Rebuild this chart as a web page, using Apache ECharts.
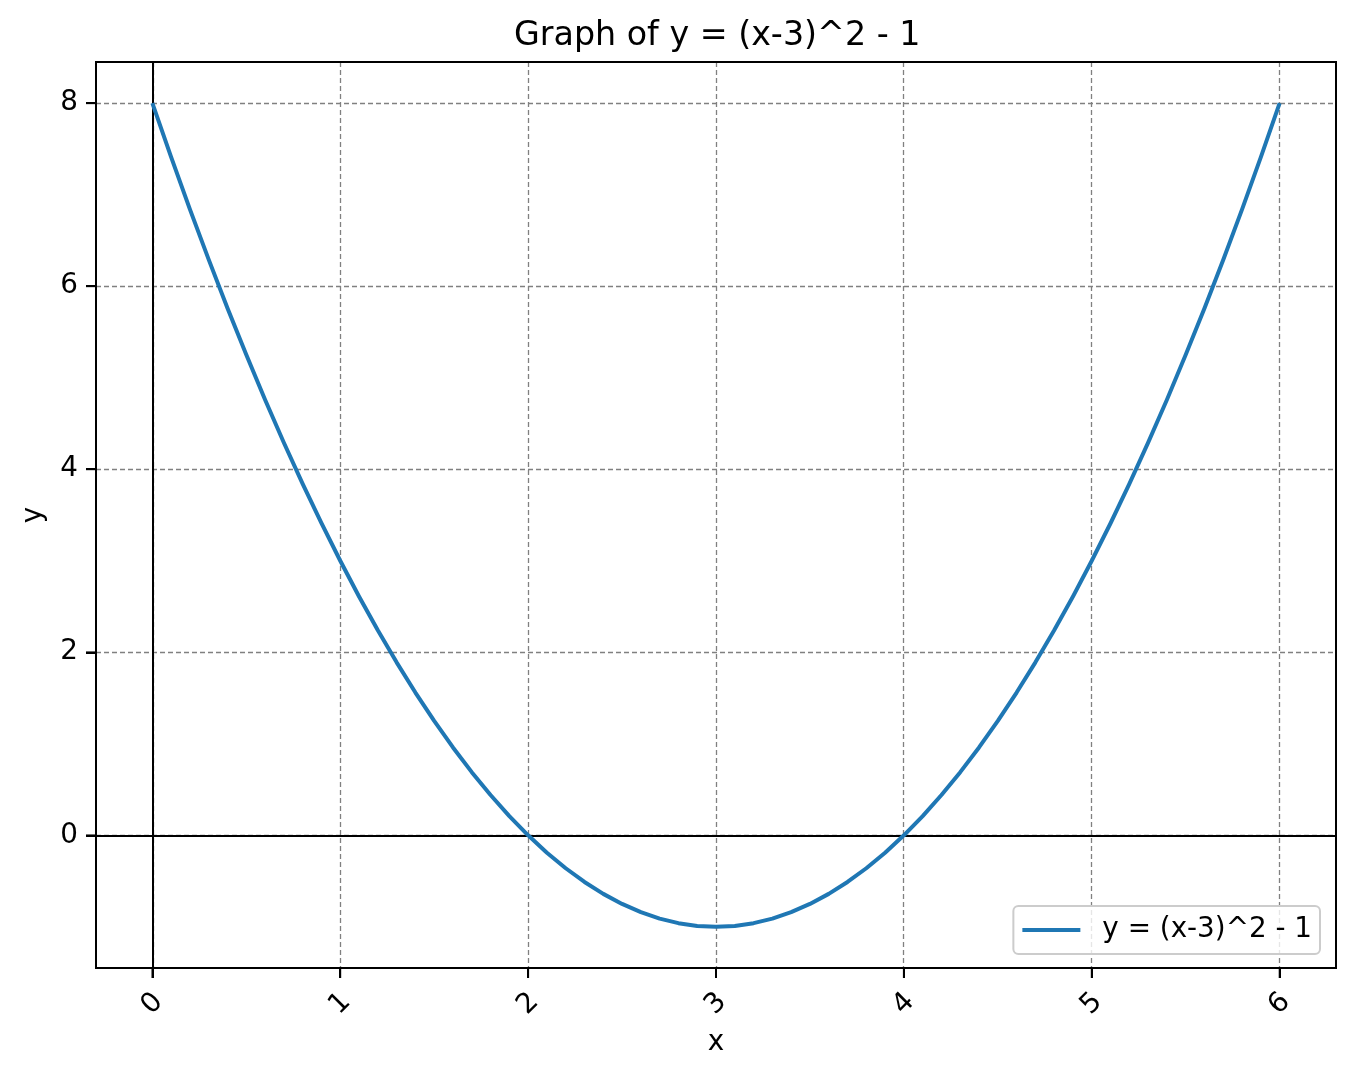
<!DOCTYPE html>
<html>
<head>
<meta charset="utf-8">
<script src="https://cdn.jsdelivr.net/npm/echarts@6/dist/echarts.min.js"></script>
<style>
html,body{margin:0;padding:0;background:#fff;}
#chart{width:1356px;height:1079px;}
</style>
</head>
<body>
<div id="chart"></div>
<script>
var titleText = 'Graph of y = (x-3)^2 - 1';
var seriesName = 'y = (x-3)^2 - 1';
var xValues = [0,0.1,0.2,0.3,0.4,0.5,0.6,0.7,0.8,0.9,1.0,1.1,1.2,1.3,1.4,1.5,1.6,1.7,1.8,1.9,2.0,2.1,2.2,2.3,2.4,2.5,2.6,2.7,2.8,2.9,3.0,
               3.1,3.2,3.3,3.4,3.5,3.6,3.7,3.8,3.9,4.0,4.1,4.2,4.3,4.4,4.5,4.6,4.7,4.8,4.9,5.0,5.1,5.2,5.3,5.4,5.5,5.6,5.7,5.8,5.9,6.0];
var yValues = [8,7.41,6.84,6.29,5.76,5.25,4.76,4.29,3.84,3.41,3,2.61,2.24,1.89,1.56,1.25,0.96,0.69,0.44,0.21,0,-0.19,-0.36,-0.51,-0.64,-0.75,-0.84,-0.91,-0.96,-0.99,-1,
               -0.99,-0.96,-0.91,-0.84,-0.75,-0.64,-0.51,-0.36,-0.19,0,0.21,0.44,0.69,0.96,1.25,1.56,1.89,2.24,2.61,3,3.41,3.84,4.29,4.76,5.25,5.76,6.29,6.84,7.41,8];
var xTicks = [0,1,2,3,4,5,6];
var yTicks = [0,2,4,6,8];
var xLimits = [-0.3, 6.3];
var yLimits = [-1.45, 8.45];

var FONT = 'DejaVu Sans';
var FS = 27.8;
var chart = echarts.init(document.getElementById('chart'), null, {renderer:'canvas'});
var points = xValues.map(function(x,i){return [x, yValues[i]];});
var xTickMarks = xTicks.map(function(v){return [v, yLimits[0]];});
var yTickMarks = yTicks.map(function(v){return [xLimits[0], v];});
var gridLine = {show:true, lineStyle:{color:'#808080', width:1.3, type:[5,3]}};
var blackLine = {show:true, onZero:false, lineStyle:{color:'#000', width:2}};

var option = {
  backgroundColor:'#ffffff',
  animation:false,
  title:{text:titleText, left:509, top:15, textStyle:{fontFamily:FONT, fontSize:33.3, fontWeight:'normal', color:'#000'}},
  legend:{
    right:36, bottom:125, orient:'vertical',
    padding:[10,8,10,9],
    borderColor:'#cccccc', borderWidth:2, borderRadius:5,
    backgroundColor:'rgba(255,255,255,0.8)',
    itemWidth:58, itemHeight:4, icon:'rect',
    textStyle:{fontFamily:FONT, fontSize:FS, color:'#000', padding:[0,0,0,17]},
    data:[seriesName]
  },
  grid:[
    {left:96, right:20, top:62, bottom:111, show:true, borderColor:'#000', borderWidth:2, backgroundColor:'transparent', z:3},
    {left:153, right:77, top:62, bottom:111},
    {left:96, right:20, top:103, bottom:244}
  ],
  xAxis:[
    {gridIndex:0, type:'value', min:xLimits[0], max:xLimits[1], position:'bottom', name:'x', nameLocation:'middle', nameGap:61,
     nameTextStyle:{fontFamily:FONT, fontSize:FS, color:'#000'},
     axisLine:blackLine,
     axisTick:{show:true, inside:false, length:10, customValues:xTicks, lineStyle:{color:'#000', width:2}},
     axisLabel:{show:true, customValues:xTicks, rotate:45, align:'center', verticalAlign:'middle', margin:36,
       fontFamily:FONT, fontSize:FS, color:'#000'},
     splitLine:{show:false}},
    {gridIndex:1, type:'value', min:xTicks[0], max:xTicks[xTicks.length-1], interval:1,
     axisLine:{show:false, onZero:false}, axisTick:{show:false}, axisLabel:{show:false},
     splitLine:gridLine},
    {gridIndex:2, type:'value', min:xLimits[0], max:xLimits[1], show:false, axisLine:{onZero:false}}
  ],
  yAxis:[
    {gridIndex:0, type:'value', min:yLimits[0], max:yLimits[1], position:'left', name:'y', nameLocation:'middle', nameGap:48,
     nameTextStyle:{fontFamily:FONT, fontSize:FS, color:'#000'},
     axisLine:blackLine,
     axisTick:{show:true, inside:false, length:10, customValues:yTicks, lineStyle:{color:'#000', width:2}},
     axisLabel:{show:true, customValues:yTicks, margin:18, fontFamily:FONT, fontSize:FS, color:'#000'},
     splitLine:{show:false}},
    {gridIndex:1, type:'value', min:yLimits[0], max:yLimits[1], show:false, axisLine:{onZero:false}},
    {gridIndex:2, type:'value', min:yTicks[0], max:yTicks[yTicks.length-1], interval:2,
     axisLine:{show:false, onZero:false}, axisTick:{show:false}, axisLabel:{show:false},
     splitLine:gridLine}
  ],
  series:[
    {
      name:seriesName, type:'line', xAxisIndex:0, yAxisIndex:0,
      data:points, showSymbol:false, symbol:'none', smooth:false,
      lineStyle:{color:'#1f77b4', width:4, join:'round', cap:'butt'},
      itemStyle:{color:'#1f77b4'},
      z:5,
      markLine:{
        silent:true, symbol:['none','none'], label:{show:false},
        lineStyle:{color:'#000', width:2, type:'solid'},
        data:[{xAxis:0},{yAxis:0}]
      }
    },
    {
      name:'xticks', type:'scatter', xAxisIndex:0, yAxisIndex:0, data:xTickMarks,
      symbol:'rect', symbolSize:[2,10], symbolOffset:[0,5], clip:false, silent:true,
      itemStyle:{color:'#000'}, z:6
    },
    {
      name:'yticks', type:'scatter', xAxisIndex:0, yAxisIndex:0, data:yTickMarks,
      symbol:'rect', symbolSize:[10,2], symbolOffset:[-5,0], clip:false, silent:true,
      itemStyle:{color:'#000'}, z:6
    }
  ]
};
chart.setOption(option);
</script>
</body>
</html>
